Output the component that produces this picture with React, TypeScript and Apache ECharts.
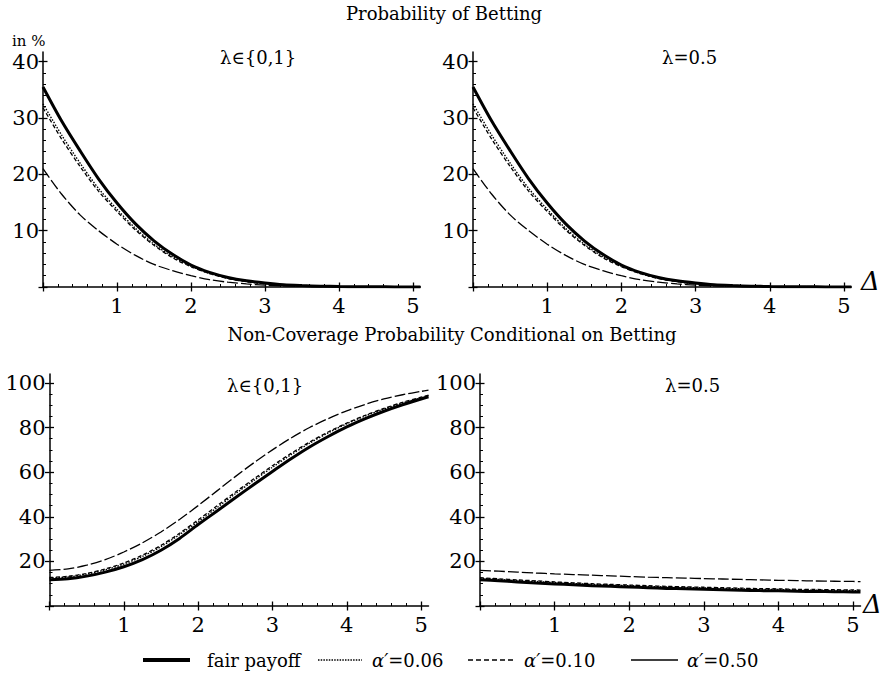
import React, { useEffect, useRef } from "react";
import * as echarts from "echarts";

// Δ grid
const deltas = [0, 0.25, 0.5, 0.75, 1, 1.25, 1.5, 1.75, 2, 2.25, 2.5, 2.75, 3, 3.25, 3.5, 3.75, 4, 4.25, 4.5, 4.75, 5, 5.1];

// Probability of betting (in %), identical for both λ panels
const betFair = [35.5, 29.5, 24.2, 19.2, 14.9, 11.2, 8.2, 5.8, 3.9, 2.6, 1.7, 1.1, 0.7, 0.4, 0.25, 0.15, 0.08, 0.05, 0.03, 0.02, 0.01, 0.01];
const bet006 = [32.5, 27.0, 22.0, 17.5, 13.8, 10.4, 7.6, 5.4, 3.7, 2.4, 1.6, 1.0, 0.6, 0.37, 0.22, 0.13, 0.07, 0.04, 0.02, 0.01, 0.01, 0.01];
const bet010 = [31.8, 26.3, 21.4, 17.0, 13.4, 10.1, 7.4, 5.2, 3.6, 2.4, 1.5, 0.95, 0.58, 0.35, 0.2, 0.12, 0.07, 0.04, 0.02, 0.01, 0.01, 0.01];
const bet050 = [21.0, 16.5, 12.8, 10.0, 7.6, 5.6, 4.0, 2.9, 2.0, 1.3, 0.85, 0.55, 0.33, 0.2, 0.12, 0.07, 0.04, 0.02, 0.01, 0.01, 0.01, 0.0];

// Non-coverage probability conditional on betting, λ ∈ {0,1}
const ncFair01 = [11.8, 12.2, 13.4, 15.2, 17.6, 20.8, 25.0, 30.3, 36.5, 42.5, 48.5, 54.5, 60.3, 66.0, 71.3, 76.0, 80.3, 84.0, 87.3, 90.2, 92.8, 93.8];
const nc006_01 = [12.5, 13.0, 14.3, 16.2, 18.8, 22.2, 26.6, 32.0, 37.8, 44.0, 50.3, 56.3, 62.2, 67.8, 73.0, 77.6, 81.7, 85.2, 88.3, 91.0, 93.3, 94.3];
const nc010_01 = [12.8, 13.3, 14.6, 16.6, 19.3, 22.8, 27.2, 32.6, 38.6, 44.8, 51.0, 57.0, 62.9, 68.4, 73.5, 78.0, 82.0, 85.5, 88.6, 91.3, 93.6, 94.5];
const nc050_01 = [16.0, 16.6, 18.3, 20.8, 24.2, 28.3, 33.2, 38.8, 45.0, 51.5, 58.0, 64.2, 70.0, 75.3, 80.0, 84.0, 87.5, 90.4, 92.8, 94.7, 96.2, 96.8];

// Non-coverage probability conditional on betting, λ = 0.5
const ncFair05 = [11.8, 11.3, 10.8, 10.3, 9.9, 9.5, 9.1, 8.8, 8.5, 8.2, 7.9, 7.7, 7.5, 7.3, 7.1, 6.9, 6.8, 6.6, 6.5, 6.4, 6.3, 6.25];
const nc006_05 = [12.4, 11.9, 11.4, 11.0, 10.5, 10.1, 9.7, 9.4, 9.1, 8.8, 8.5, 8.3, 8.1, 7.9, 7.7, 7.5, 7.4, 7.2, 7.1, 7.0, 6.9, 6.85];
const nc010_05 = [12.7, 12.2, 11.7, 11.3, 10.8, 10.4, 10.0, 9.7, 9.4, 9.1, 8.8, 8.6, 8.4, 8.2, 8.0, 7.8, 7.7, 7.5, 7.4, 7.3, 7.2, 7.15];
const nc050_05 = [16.0, 15.6, 15.2, 14.8, 14.4, 14.1, 13.8, 13.5, 13.2, 12.9, 12.7, 12.5, 12.3, 12.1, 11.9, 11.7, 11.5, 11.4, 11.2, 11.1, 11.0, 10.95];

// Ticks
const xMajorTicks = [0, 1, 2, 3, 4, 5];
const xTickLabels = [1, 2, 3, 4, 5];
const xMinorTicks = [0.2, 0.4, 0.6, 0.8, 1.2, 1.4, 1.6, 1.8, 2.2, 2.4, 2.6, 2.8, 3.2, 3.4, 3.6, 3.8, 4.2, 4.4, 4.6, 4.8, 5.0];
const yTopMajor = [0, 10, 20, 30, 40];
const yTopLabels = [10, 20, 30, 40];
const yTopMinor = [2, 4, 6, 8, 12, 14, 16, 18, 22, 24, 26, 28, 32, 34, 36, 38];
const yBotMajor = [0, 20, 40, 60, 80, 100];
const yBotLabels = [20, 40, 60, 80, 100];
const yBotMinor = [5, 10, 15, 25, 30, 35, 45, 50, 55, 65, 70, 75, 85, 90, 95];

const legendNames = ["fair payoff", "α′=0.06", "α′=0.10", "α′=0.50"];

const SERIF = "'DejaVu Serif', 'Liberation Serif', serif";
const BLACK = "#000";

const styles = [
  { width: 3, type: "solid" as any },
  { width: 1.4, type: [1.5, 1.5] as any },
  { width: 1.3, type: [4, 2.5] as any },
  { width: 1.3, type: [11, 3] as any },
];

export default function App() {
  const ref = useRef<HTMLDivElement>(null);
  useEffect(() => {
    if (!ref.current) return;
    const chart = echarts.init(ref.current, null, { renderer: "svg" });

    const panels = [
      { left: 43, top: 52, width: 377.4, height: 235, yMax: 41.7, yMajor: yTopMajor, yMinor: yTopMinor, yLabels: yTopLabels, data: [betFair, bet006, bet010, bet050] },
      { left: 473, top: 52, width: 378.4, height: 235, yMax: 41.7, yMajor: yTopMajor, yMinor: yTopMinor, yLabels: yTopLabels, data: [betFair, bet006, bet010, bet050] },
      { left: 49.5, top: 374, width: 379, height: 232, yMax: 104, yMajor: yBotMajor, yMinor: yBotMinor, yLabels: yBotLabels, data: [ncFair01, nc006_01, nc010_01, nc050_01] },
      { left: 480, top: 374, width: 380.5, height: 232, yMax: 104, yMajor: yBotMajor, yMinor: yBotMinor, yLabels: yBotLabels, data: [ncFair05, nc006_05, nc010_05, nc050_05] },
    ];

    const grid: any[] = [];
    const xAxis: any[] = [];
    const yAxis: any[] = [];
    const series: any[] = [];

    panels.forEach((p, gi) => {
      grid.push({ left: p.left, top: p.top, width: p.width, height: p.height, containLabel: false });
      const xBase = { gridIndex: gi, type: "value", min: 0, max: 5.1, position: "bottom", splitLine: { show: false } };
      xAxis.push({
        ...xBase,
        axisLine: { show: true, onZero: false, lineStyle: { color: BLACK, width: 1.5 } },
        axisTick: { show: true, inside: true, length: 4.5, customValues: xMajorTicks, lineStyle: { color: BLACK, width: 1.3 } },
        axisLabel: { show: true, customValues: xTickLabels, color: BLACK, fontFamily: SERIF, fontSize: 21, margin: 8 },
      });
      xAxis.push({
        ...xBase,
        axisLine: { show: false, onZero: false },
        axisTick: { show: true, inside: false, length: 4.5, customValues: xMajorTicks, lineStyle: { color: BLACK, width: 1.3 } },
        axisLabel: { show: false },
      });
      xAxis.push({
        ...xBase,
        axisLine: { show: false, onZero: false },
        axisTick: { show: true, inside: true, length: 3, customValues: xMinorTicks, lineStyle: { color: BLACK, width: 1 } },
        axisLabel: { show: false },
      });
      const yBase = { gridIndex: gi, type: "value", min: 0, max: p.yMax, position: "left", splitLine: { show: false } };
      yAxis.push({
        ...yBase,
        axisLine: { show: true, onZero: false, lineStyle: { color: BLACK, width: 1.5 } },
        axisTick: { show: true, inside: true, length: 4.5, customValues: p.yMajor, lineStyle: { color: BLACK, width: 1.3 } },
        axisLabel: { show: true, customValues: p.yLabels, color: BLACK, fontFamily: SERIF, fontSize: 21, margin: 4 },
      });
      yAxis.push({
        ...yBase,
        axisLine: { show: false, onZero: false },
        axisTick: { show: true, inside: false, length: 4.5, customValues: p.yMajor, lineStyle: { color: BLACK, width: 1.3 } },
        axisLabel: { show: false },
      });
      yAxis.push({
        ...yBase,
        axisLine: { show: false, onZero: false },
        axisTick: { show: true, inside: true, length: 3, customValues: p.yMinor, lineStyle: { color: BLACK, width: 1 } },
        axisLabel: { show: false },
      });
      p.data.forEach((vals, si) => {
        series.push({
          name: legendNames[si],
          type: "line",
          xAxisIndex: gi * 3,
          yAxisIndex: gi * 3,
          data: deltas.map((d, i) => [d, vals[i]]),
          showSymbol: false,
          symbol: "none",
          smooth: 0.3,
          lineStyle: { color: BLACK, width: styles[si].width, type: styles[si].type },
          z: si === 0 ? 2 : 3,
          silent: true,
        });
      });
    });

    const txt = (x: number, y: number, text: string, fontSize: number, extra: any = {}) => ({
      type: "text",
      x,
      y,
      style: { text, fontFamily: SERIF, fontSize, fill: BLACK, textVerticalAlign: "middle", verticalAlign: "middle", ...extra },
    });

    const legendY = 660;
    const graphic: any[] = [
      txt(444, 13, "Probability of Betting", 18, { align: "center", textAlign: "center" }),
      txt(452, 334, "Non-Coverage Probability Conditional on Betting", 18, { align: "center", textAlign: "center" }),
      txt(12, 41, "in %", 15),
      txt(220, 57, "λ∈{0,1}", 18),
      txt(662, 57, "λ=0.5", 18),
      txt(227, 385, "λ∈{0,1}", 18),
      txt(665, 385, "λ=0.5", 18),
      txt(861, 281, "Δ", 26, { fontStyle: "italic" }),
      txt(863, 604, "Δ", 26, { fontStyle: "italic" }),
      { type: "line", shape: { x1: 143, y1: legendY, x2: 190, y2: legendY }, style: { stroke: BLACK, lineWidth: 4 } },
      txt(207, legendY, legendNames[0], 18),
      { type: "line", shape: { x1: 318, y1: legendY, x2: 362, y2: legendY }, style: { stroke: BLACK, lineWidth: 1.6, lineDash: [1.5, 1.2] } },
      { type: "line", shape: { x1: 468, y1: legendY, x2: 513, y2: legendY }, style: { stroke: BLACK, lineWidth: 1.5, lineDash: [5, 3] } },
      { type: "line", shape: { x1: 631, y1: legendY, x2: 678, y2: legendY }, style: { stroke: BLACK, lineWidth: 1.6 } },
    ];
    const alphaX = [372, 524, 687];
    [1, 2, 3].forEach((k, i) => {
      const parts = legendNames[k].split("=");
      graphic.push({
        type: "text",
        x: alphaX[i],
        y: legendY,
        style: {
          text: "{a|" + parts[0] + "}{b|=" + parts[1] + "}",
          verticalAlign: "middle",
          textVerticalAlign: "middle",
          rich: {
            a: { fontFamily: SERIF, fontSize: 18, fontStyle: "italic", fill: BLACK, color: BLACK },
            b: { fontFamily: SERIF, fontSize: 18, fill: BLACK, color: BLACK },
          },
        },
      });
    });

    chart.setOption({
      animation: false,
      backgroundColor: "#fff",
      grid,
      xAxis,
      yAxis,
      series,
      graphic,
    });
    return () => chart.dispose();
  }, []);
  return <div ref={ref} style={{ position: "fixed", left: 0, top: 0, width: 889, height: 675 }} />;
}
